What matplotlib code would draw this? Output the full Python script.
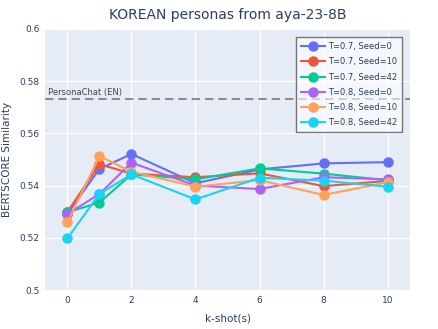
import matplotlib
matplotlib.use("Agg")
import matplotlib.pyplot as plt

# k-shot values on the x axis
k_shots = [0, 1, 2, 4, 6, 8, 10]

# BERTSCORE similarity per run
t07_s0 = [0.5292, 0.5464, 0.5521, 0.5409, 0.5462, 0.5485, 0.5490]
t07_s10 = [0.5299, 0.5482, 0.5446, 0.5432, 0.5447, 0.5398, 0.5418]
t07_s42 = [0.5298, 0.5335, 0.5443, 0.5424, 0.5466, 0.5446, 0.5420]
t08_s0 = [0.5291, 0.5368, 0.5488, 0.5400, 0.5387, 0.5432, 0.5424]
t08_s10 = [0.5259, 0.5513, 0.5453, 0.5396, 0.5421, 0.5364, 0.5413]
t08_s42 = [0.5198, 0.5368, 0.5443, 0.5347, 0.5430, 0.5419, 0.5396]

labels = ["T=0.7, Seed=0", "T=0.7, Seed=10", "T=0.7, Seed=42",
          "T=0.8, Seed=0", "T=0.8, Seed=10", "T=0.8, Seed=42"]
series = [t07_s0, t07_s10, t07_s42, t08_s0, t08_s10, t08_s42]
colors = ["#636EFA", "#EF553B", "#00CC96", "#AB63FA", "#FFA15A", "#19D3F3"]

baseline = 0.5732
baseline_label = "PersonaChat (EN)"

font_color = "#2a3f5f"

fig = plt.figure(figsize=(4.39, 3.29), dpi=100)
ax = fig.add_axes([0.1025, 0.1185, 0.8315, 0.7934])
ax.set_facecolor("#E5ECF6")

for vals, lab, col in zip(series, labels, colors):
    ax.plot(k_shots, vals, color=col, lw=1.5, marker="o", ms=6.5,
            label=lab, zorder=3)

ax.axhline(baseline, color="#777777", lw=1.2, ls=(0, (5, 3)), zorder=2)
ax.text(-0.62, baseline + 0.0006, baseline_label, fontsize=6,
        color="#444444", va="bottom", ha="left")

ax.set_xlim(-0.7, 10.7)
ax.set_ylim(0.5, 0.6)
ax.set_xticks([0, 2, 4, 6, 8, 10])
ax.set_yticks([0.5, 0.52, 0.54, 0.56, 0.58, 0.6])
ax.set_yticklabels(["0.5", "0.52", "0.54", "0.56", "0.58", "0.6"])
ax.grid(True, color="white", lw=1)
ax.set_axisbelow(True)
for s in ax.spines.values():
    s.set_visible(False)
ax.tick_params(length=0, labelsize=6.5, colors=font_color, pad=4)

ax.set_xlabel("k-shot(s)", fontsize=7.5, color=font_color)
ax.xaxis.set_label_coords(0.5, -0.09)
ax.set_ylabel("BERTSCORE Similarity", fontsize=7.5, color=font_color)
ax.yaxis.set_label_coords(-0.09, 0.5)
ax.set_title("KOREAN personas from aya-23-8B", fontsize=10, color=font_color, pad=7)

leg = ax.legend(loc="upper right", bbox_to_anchor=(0.99, 0.985), fontsize=6,
                frameon=True, fancybox=False, framealpha=0.6, edgecolor="#222222",
                handlelength=2.8, borderpad=0.6, labelspacing=0.75,
                handletextpad=0.4)
leg.get_frame().set_linewidth(1)
for t in leg.get_texts():
    t.set_color(font_color)

fig.savefig("out.png", dpi=100)
